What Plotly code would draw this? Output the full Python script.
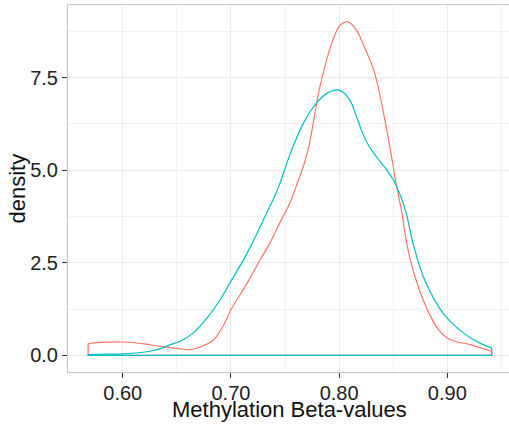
import plotly.graph_objects as go

# Density curves (x = beta value, y = density)
red_x = [0.568, 0.580, 0.600, 0.620, 0.635, 0.650, 0.661, 0.671, 0.684, 0.692, 0.700,
         0.715, 0.727, 0.736, 0.745, 0.755, 0.762, 0.768, 0.773, 0.778, 0.782, 0.792,
         0.798, 0.801, 0.808, 0.816, 0.822, 0.832, 0.838, 0.844, 0.850, 0.852, 0.858,
         0.863, 0.871, 0.883, 0.892, 0.903, 0.921, 0.941]
red_y = [0.32, 0.35, 0.36, 0.31, 0.24, 0.19, 0.15, 0.22, 0.42, 0.75, 1.23,
         1.95, 2.58, 3.03, 3.57, 4.15, 4.70, 5.20, 5.78, 6.60, 7.22, 8.33,
         8.78, 8.92, 9.01, 8.78, 8.42, 7.70, 6.98, 6.09, 5.10, 4.74, 3.84,
         2.94, 2.04, 1.14, 0.69, 0.42, 0.29, 0.11]

teal_x = [0.568, 0.585, 0.600, 0.615, 0.625, 0.635, 0.644, 0.653, 0.665, 0.678, 0.690,
          0.699, 0.715, 0.730, 0.743, 0.755, 0.767, 0.779, 0.789, 0.798, 0.804, 0.810,
          0.816, 0.822, 0.827, 0.832, 0.838, 0.844, 0.850, 0.857, 0.862, 0.869, 0.879,
          0.896, 0.915, 0.930, 0.941]
teal_y = [0.02, 0.03, 0.04, 0.07, 0.11, 0.18, 0.29, 0.38, 0.60, 1.01, 1.50,
          1.95, 2.76, 3.66, 4.47, 5.46, 6.27, 6.81, 7.08, 7.17, 7.10, 6.89,
          6.45, 5.98, 5.68, 5.46, 5.23, 5.01, 4.74, 4.29, 3.84, 2.94, 2.04,
          1.14, 0.60, 0.33, 0.20]

x_ticks = [0.60, 0.70, 0.80, 0.90]
x_ticktext = ["0.60", "0.70", "0.80", "0.90"]
y_ticks = [0.0, 2.5, 5.0, 7.5]
y_ticktext = ["0.0", "2.5", "5.0", "7.5"]
x_minor = [0.55, 0.65, 0.75, 0.85, 0.95]
y_minor = [1.25, 3.75, 6.25, 8.75]

colors = ["#F8766D", "#00BFC4"]

fig = go.Figure()
for xs, ys, c in [(red_x, red_y, colors[0]), (teal_x, teal_y, colors[1])]:
    # smooth density curve
    fig.add_trace(go.Scatter(x=xs, y=ys, mode="lines",
                             line=dict(color=c, width=1.2, shape="spline", smoothing=1.0),
                             showlegend=False, hoverinfo="skip"))
    # geom_density outline closes down to the baseline and back to the start
    fig.add_trace(go.Scatter(x=[xs[-1], xs[-1], xs[0], xs[0]],
                             y=[ys[-1], 0.0, 0.0, ys[0]], mode="lines",
                             line=dict(color=c, width=1.2),
                             showlegend=False, hoverinfo="skip"))

font_family = "Liberation Sans, Arial, Helvetica, sans-serif"
fig.update_layout(
    width=509, height=426,
    margin=dict(l=68, r=0, t=5, b=54),
    paper_bgcolor="white", plot_bgcolor="white",
    font=dict(family=font_family, color="#222222"),
    xaxis=dict(range=[0.5494, 0.957], tickvals=x_ticks, ticktext=x_ticktext,
               ticks="outside", ticklen=5, tickwidth=1, tickcolor="#333333",
               ticklabelstandoff=-2,
               tickfont=dict(size=20, color="#222222"),
               showgrid=True, gridcolor="#EBEBEB", gridwidth=1,
               minor=dict(tickvals=x_minor, showgrid=True, gridcolor="#F1F1F1", gridwidth=0.6),
               showline=True, linecolor="#C4C4C4", linewidth=1, mirror=True,
               zeroline=False),
    yaxis=dict(range=[-0.45, 9.46], tickvals=y_ticks, ticktext=y_ticktext,
               ticks="outside", ticklen=5, tickwidth=1, tickcolor="#333333",
               tickfont=dict(size=20, color="#222222"),
               showgrid=True, gridcolor="#EBEBEB", gridwidth=1,
               minor=dict(tickvals=y_minor, showgrid=True, gridcolor="#F1F1F1", gridwidth=0.6),
               showline=True, linecolor="#C4C4C4", linewidth=1, mirror=False,
               zeroline=False),
    annotations=[
        dict(text="Methylation Beta-values", xref="paper", yref="paper",
             x=0.503, y=-0.103, xanchor="center", yanchor="middle", showarrow=False,
             font=dict(size=22, color="#111111", family=font_family)),
        dict(text="density", xref="paper", yref="paper", textangle=-90,
             x=-0.1156, y=0.5, xanchor="center", yanchor="middle", showarrow=False,
             font=dict(size=22, color="#111111", family=font_family)),
    ],
)

fig.write_html("out.html", config={"displayModeBar": False},
               post_script="document.body.style.margin='0';document.body.style.overflow='hidden';")
